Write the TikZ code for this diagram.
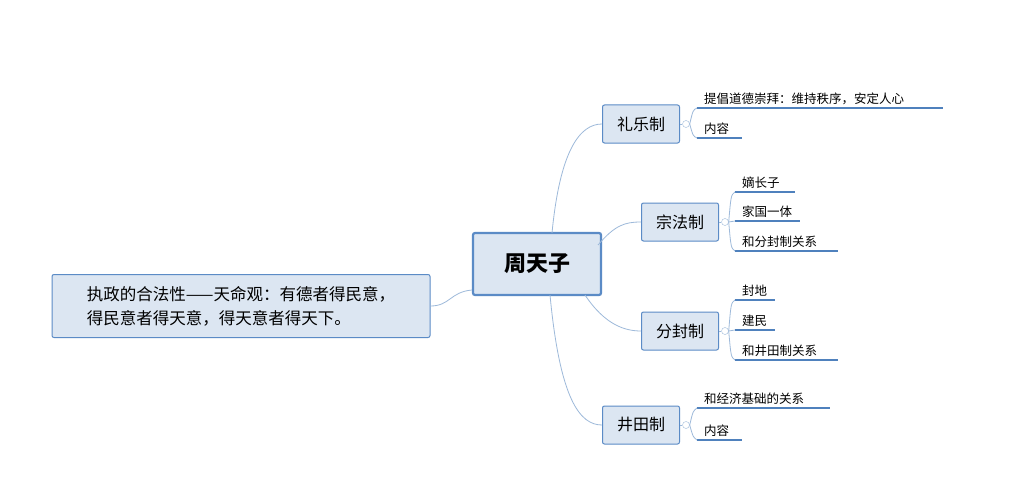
\documentclass[tikz,border=0pt]{standalone}
\usepackage{fontspec}
\setmainfont{Noto Sans CJK SC}
\definecolor{boxfill}{HTML}{DCE6F2}
\definecolor{boxline}{HTML}{5B8BC6}
\definecolor{linkline}{HTML}{9DB9DA}
\definecolor{leafline}{HTML}{4F81BD}
\tikzset{
  topic/.style={draw=boxline,fill=boxfill,line width=1pt,rounded corners=2pt,minimum width=77pt,minimum height=38pt,font=\fontsize{16}{18}\selectfont},
  leaf/.style={anchor=south west,inner sep=1pt,font=\fontsize{12.5}{14}\selectfont},
  uline/.style={leafline,line width=1.6pt},
  link/.style={linkline,line width=0.8pt},
  knob/.style={draw=linkline,fill=white,circle,inner sep=0pt,minimum size=7pt}
}
\begin{document}
\begin{tikzpicture}[x=1pt,y=-1pt]
\useasboundingbox[fill=white] (0,0) rectangle (1024,500);

% centre and left topic
\node[topic,minimum width=128pt,minimum height=62pt,line width=2.2pt,font=\fontsize{22}{24}\selectfont\bfseries] (king) at (537,264) {周天子};
\node[topic,minimum width=378pt,minimum height=63pt,align=left,font=\fontsize{16.5}{24}\selectfont] (rule) at (241,306) {执政的合法性——天命观：有德者得民意，\\得民意者得天意，得天意者得天下。};
\draw[link] (king.west) ++(0,26) coordinate (kl) .. controls (450,292) and (450,306) .. (rule.east);

% branches
\node[topic] (li) at (641,124) {礼乐制};
\node[topic] (zong) at (680,222) {宗法制};
\node[topic] (fen) at (680,331) {分封制};
\node[topic] (jing) at (641,425) {井田制};

\coordinate (k1) at (552,233);
\coordinate (k2) at (598,245);
\coordinate (k3) at (585,295);
\coordinate (k4) at (550,295);
\draw[link] (k1) .. controls (560,150) and (580,124) .. (li.west);
\draw[link] (k2) .. controls (615,225) and (625,222) .. (zong.west);
\draw[link] (k3) .. controls (605,325) and (625,331) .. (fen.west);
\draw[link] (k4) .. controls (560,400) and (580,425) .. (jing.west);

% leaves of li
\node[knob] (c1) at (686,124) {};
\draw[link] (li.east) -- (c1);
\node[leaf] (l1a) at (703,106) {提倡道德崇拜：维持秩序，安定人心};
\node[leaf] (l1b) at (703,136) {内容};
\draw[uline] (697,108) -- (943,108);
\draw[uline] (697,138) -- (742,138);
\draw[link] (c1.east) .. controls (693,110) .. (697,108);
\draw[link] (c1.east) .. controls (693,136) .. (697,138);

% leaves of zong
\node[knob] (c2) at (725,222) {};
\draw[link] (zong.east) -- (c2);
\node[leaf] (l2a) at (741,190) {嫡长子};
\node[leaf] (l2b) at (741,219) {家国一体};
\node[leaf] (l2c) at (741,249) {和分封制关系};
\draw[uline] (735,192) -- (795,192);
\draw[uline] (735,221) -- (800,221);
\draw[uline] (735,251) -- (838,251);
\draw[link] (c2.east) .. controls (731,195) .. (735,192);
\draw[link] (c2.east) -- (735,221);
\draw[link] (c2.east) .. controls (731,248) .. (735,251);

% leaves of fen
\node[knob] (c3) at (725,331) {};
\draw[link] (fen.east) -- (c3);
\node[leaf] (l3a) at (741,298) {封地};
\node[leaf] (l3b) at (741,328) {建民};
\node[leaf] (l3c) at (741,358) {和井田制关系};
\draw[uline] (735,300) -- (775,300);
\draw[uline] (735,330) -- (775,330);
\draw[uline] (735,360) -- (838,360);
\draw[link] (c3.east) .. controls (731,303) .. (735,300);
\draw[link] (c3.east) -- (735,330);
\draw[link] (c3.east) .. controls (731,357) .. (735,360);

% leaves of jing
\node[knob] (c4) at (686,425) {};
\draw[link] (jing.east) -- (c4);
\node[leaf] (l4a) at (703,406) {和经济基础的关系};
\node[leaf] (l4b) at (703,438) {内容};
\draw[uline] (697,408) -- (830,408);
\draw[uline] (697,440) -- (742,440);
\draw[link] (c4.east) .. controls (693,411) .. (697,408);
\draw[link] (c4.east) .. controls (693,437) .. (697,440);
\end{tikzpicture}
\end{document}
